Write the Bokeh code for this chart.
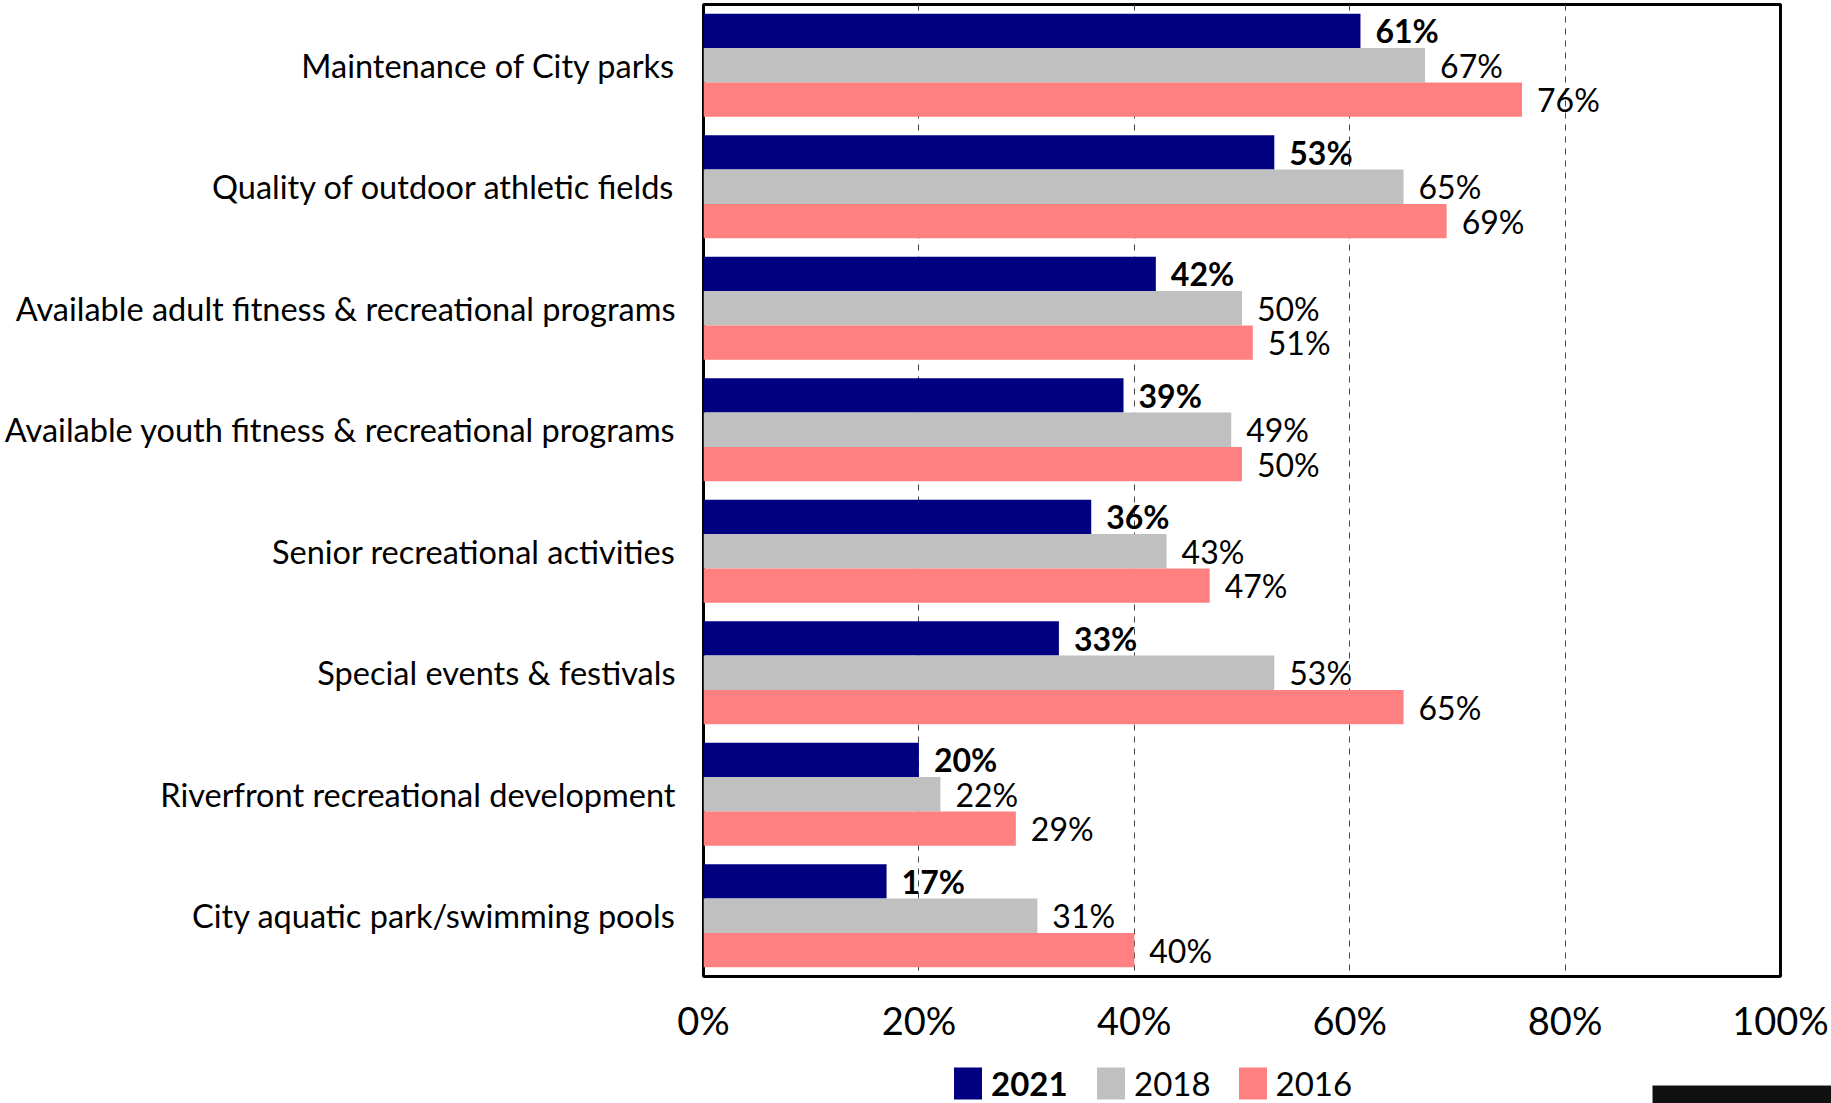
from bokeh.plotting import figure
from bokeh.layouts import column
from bokeh.models import (Range1d, FixedTicker, ColumnDataSource, Legend, LegendItem,
                          BoxAnnotation, LabelSet)
from bokeh.core.properties import value
from bokeh.embed import file_html
from bokeh.resources import INLINE

categories = [
    "Maintenance of City parks",
    "Quality of outdoor athletic fields",
    "Available adult fitness & recreational programs",
    "Available youth fitness & recreational programs",
    "Senior recreational activities",
    "Special events & festivals",
    "Riverfront recreational development",
    "City aquatic park/swimming pools",
]
years = ["2021", "2018", "2016"]
v2021 = [61, 53, 42, 39, 36, 33, 20, 17]
v2018 = [67, 65, 50, 49, 43, 53, 22, 31]
v2016 = [76, 69, 51, 50, 47, 65, 29, 40]
x_ticks = [0, 20, 40, 60, 80, 100]
x_tick_labels = ["0%", "20%", "40%", "60%", "80%", "100%"]

colors = {"2021": "#000080", "2018": "#C0C0C0", "2016": "#FF8080"}
series = {"2021": v2021, "2018": v2018, "2016": v2016}
offsets = {"2021": -0.283, "2018": 0.0, "2016": 0.283}
BAR_H = 0.283
FONT = "Lato"

W = 1831
H_MAIN = 1062
H_LEG = 41

p = figure(width=W, height=H_MAIN, output_backend="svg", toolbar_location=None,
           x_range=Range1d(0, 100), y_range=Range1d(8, 0),
           min_border_left=703, min_border_right=51, min_border_top=4,
           min_border_bottom=86)
p.frame_align = False

p.outline_line_color = "black"
p.outline_line_width = 3
p.background_fill_color = "white"
p.border_fill_color = "white"

# grid
p.ygrid.visible = False
p.xgrid.ticker = FixedTicker(ticks=[20, 40, 60, 80])
p.xgrid.grid_line_color = "#444444"
p.xgrid.grid_line_width = 1
p.xgrid.grid_line_dash = "6 6"

# x axis
p.xaxis.ticker = FixedTicker(ticks=x_ticks)
p.xaxis.major_label_overrides = {t: l for t, l in zip(x_ticks, x_tick_labels)}
p.xaxis.axis_line_color = None
p.xaxis.major_tick_line_color = None
p.xaxis.minor_tick_line_color = None
p.xaxis.major_label_text_font = FONT
p.xaxis.major_label_text_font_size = "38px"
p.xaxis.major_label_text_color = "black"
p.xaxis.major_label_standoff = 14

# y axis
centers = [i + 0.5 for i in range(len(categories))]
p.yaxis.ticker = FixedTicker(ticks=centers)
p.yaxis.major_label_overrides = {c: name for c, name in zip(centers, categories)}
p.yaxis.axis_line_color = None
p.yaxis.major_tick_line_color = None
p.yaxis.minor_tick_line_color = None
p.yaxis.major_label_text_font = FONT
p.yaxis.major_label_text_font_size = "32.5px"
p.yaxis.major_label_text_color = "black"
p.yaxis.major_label_standoff = 22

for yr in years:
    vals = series[yr]
    src = ColumnDataSource(dict(
        y=[c + offsets[yr] for c in centers],
        v=vals,
        lbl=[f"{v}%" for v in vals],
    ))
    p.hbar(y="y", right="v", left=0, height=BAR_H, source=src,
           fill_color=colors[yr], line_color=None)
    labels = LabelSet(x="v", y="y", text="lbl", source=src, x_offset=15,
                      text_align="left", text_baseline="middle",
                      text_font=value(FONT), text_font_size=value("32px"),
                      text_color=value("black"),
                      text_font_style=value("bold" if yr == "2021" else "normal"))
    p.add_layout(labels)

# ---- legend strip ----
q = figure(width=W, height=H_LEG, output_backend="svg", toolbar_location=None,
           x_range=Range1d(0, 1), y_range=Range1d(0, 1),
           min_border_left=0, min_border_right=0, min_border_top=0,
           min_border_bottom=0)
q.frame_align = False
q.axis.visible = False
q.grid.visible = False
q.outline_line_color = None
q.background_fill_color = "white"
q.border_fill_color = "white"

leg_r = {}
for yr in years:
    # swatch-only renderers, placed outside the visible range
    leg_r[yr] = q.quad(left=[-3], right=[-2], top=[-2], bottom=[-3],
                       fill_color=colors[yr], line_color=None)

leg_common = dict(orientation="horizontal", label_text_font=FONT,
                  label_text_font_size="33px", label_text_color="black",
                  glyph_width=35, glyph_height=40,
                  label_height=40, label_standoff=6, padding=0, margin=0,
                  spacing=24, border_line_color=None, background_fill_alpha=0)
LEG_Y = 0
leg1 = Legend(items=[LegendItem(label="2021", renderers=[leg_r["2021"]])],
              location=(950, LEG_Y), label_text_font_style="bold", **leg_common)
leg2 = Legend(items=[LegendItem(label="2018", renderers=[leg_r["2018"]]),
                     LegendItem(label="2016", renderers=[leg_r["2016"]])],
              location=(1093, LEG_Y), label_text_font_style="normal", **leg_common)
q.add_layout(leg1, "center")
q.add_layout(leg2, "center")

box = BoxAnnotation(left=1652, right=1831, top=23, bottom=41,
                    left_units="canvas", right_units="canvas",
                    top_units="canvas", bottom_units="canvas",
                    fill_color="#111111", fill_alpha=1,
                    line_color="#999999", line_width=1)
q.add_layout(box)

layout = column(p, q, spacing=0)
open("out.html", "w").write(file_html(layout, INLINE))
